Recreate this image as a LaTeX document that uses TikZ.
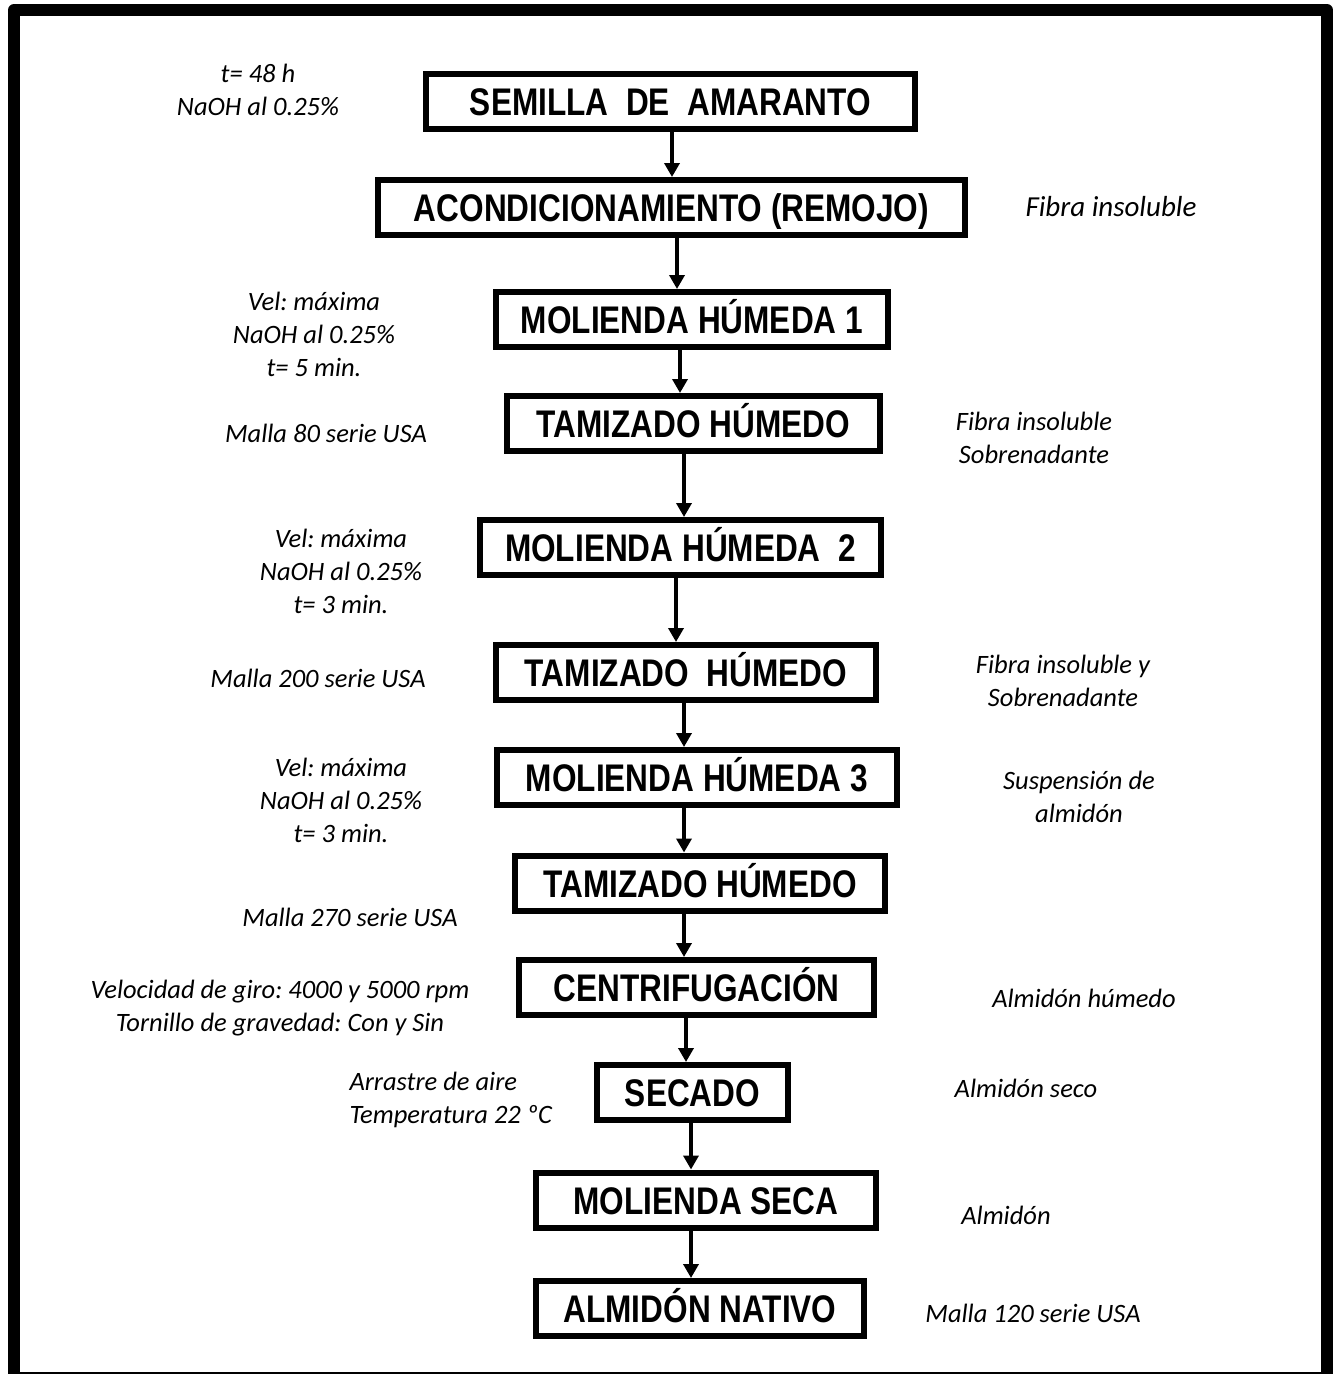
\documentclass[tikz,border=0pt]{standalone}
\usepackage{fontspec}
\setmainfont{Carlito}
\newfontfamily\boxfont{Liberation Sans}[FakeStretch=0.82]
\usetikzlibrary{arrows.meta}
\frenchspacing

\tikzset{
    paso/.style={draw, line width=6pt, inner sep=0pt, minimum height=55pt,
        text height=28pt, text depth=0pt,
        font=\boxfont\bfseries\fontsize{38.5}{42}\selectfont},
    nota/.style={align=center, font=\itshape\fontsize{26.5}{33}\selectfont},
    flecha/.style={line width=3.5pt, -{Triangle[length=14pt,width=15pt]}},
}

\begin{document}
\begin{tikzpicture}[x=1pt,y=-1pt]
    \useasboundingbox (0,0) rectangle (1334,1374);
    \clip (0,0) rectangle (1334,1374);

    \draw[line width=12pt, line join=round] (14,10) rectangle (1327,1378);

    \node[paso, minimum width=489pt] (semilla) at (670.5,101.5) {SEMILLA~~DE~~AMARANTO};
    \node[paso, minimum width=587pt] (remojo) at (671.5,207.5) {ACONDICIONAMIENTO (REMOJO)};
    \node[paso, minimum width=392pt] (mol1) at (692,319.5) {MOLIENDA HÚMEDA 1};
    \node[paso, minimum width=373pt] (tam1) at (693.5,423.5) {TAMIZADO HÚMEDO};
    \node[paso, minimum width=401pt] (mol2) at (680.5,547.5) {MOLIENDA HÚMEDA~~2};
    \node[paso, minimum width=380pt] (tam2) at (686,672.5) {TAMIZADO~~HÚMEDO};
    \node[paso, minimum width=400pt] (mol3) at (697,777.5) {MOLIENDA HÚMEDA 3};
    \node[paso, minimum width=370pt] (tam3) at (700,883) {TAMIZADO HÚMEDO};
    \node[paso, minimum width=355pt] (centrif) at (696.5,987.5) {CENTRIFUGACIÓN};
    \node[paso, minimum width=191pt] (secado) at (692.5,1092.5) {SECADO};
    \node[paso, minimum width=340pt] (molseca) at (706,1200) {MOLIENDA SECA};
    \node[paso, minimum width=328pt] (nativo) at (700,1308.5) {ALMIDÓN NATIVO};

    \draw[flecha] (672,0 |- semilla.south) -- (672,0 |- remojo.north);
    \draw[flecha] (677,0 |- remojo.south) -- (677,0 |- mol1.north);
    \draw[flecha] (680,0 |- mol1.south) -- (680,0 |- tam1.north);
    \draw[flecha] (684,0 |- tam1.south) -- (684,0 |- mol2.north);
    \draw[flecha] (676,0 |- mol2.south) -- (676,0 |- tam2.north);
    \draw[flecha] (684,0 |- tam2.south) -- (684,0 |- mol3.north);
    \draw[flecha] (684,0 |- mol3.south) -- (684,0 |- tam3.north);
    \draw[flecha] (684,0 |- tam3.south) -- (684,0 |- centrif.north);
    \draw[flecha] (686,0 |- centrif.south) -- (686,0 |- secado.north);
    \draw[flecha] (691,0 |- secado.south) -- (691,0 |- molseca.north);
    \draw[flecha] (691,0 |- molseca.south) -- (691,0 |- nativo.north);

    \node[nota] (remojoizq) at (258,90) {t= 48 h\\NaOH al 0.25\%};
    \node[nota] (mol1izq) at (314,334) {Vel: máxima\\NaOH al 0.25\%\\t= 5 min.};
    \node[nota] (tam1izq) at (326,433) {Malla 80 serie USA};
    \node[nota] (mol2izq) at (341,571) {Vel: máxima\\NaOH al 0.25\%\\t= 3 min.};
    \node[nota] (tam2izq) at (318,678) {Malla 200 serie USA};
    \node[nota] (mol3izq) at (341,800) {Vel: máxima\\NaOH al 0.25\%\\t= 3 min.};
    \node[nota] (tam3izq) at (350,917) {Malla 270 serie USA};
    \node[nota] (centrifizq) at (280,1008) {Velocidad de giro: 4000 y 5000 rpm\\Tornillo de gravedad: Con y Sin};
    \node[nota, align=left, anchor=west] (secadoizq) at (346,1100) {Arrastre de aire\\Temperatura 22 ºC};

    \node[nota, font=\itshape\fontsize{29}{33}\selectfont] (remojoder) at (1111,207) {Fibra insoluble};
    \node[nota] (tam1der) at (1034,438) {Fibra insoluble\\Sobrenadante};
    \node[nota] (tam2der) at (1063,681) {Fibra insoluble y\\Sobrenadante};
    \node[nota] (mol3der) at (1079,797) {Suspensión de\\almidón};
    \node[nota] (centrifder) at (1084,998) {Almidón húmedo};
    \node[nota] (secadoder) at (1026,1088) {Almidón seco};
    \node[nota] (molsecader) at (1006,1215) {Almidón};
    \node[nota] (nativoder) at (1033,1313) {Malla 120 serie USA};
\end{tikzpicture}
\end{document}
